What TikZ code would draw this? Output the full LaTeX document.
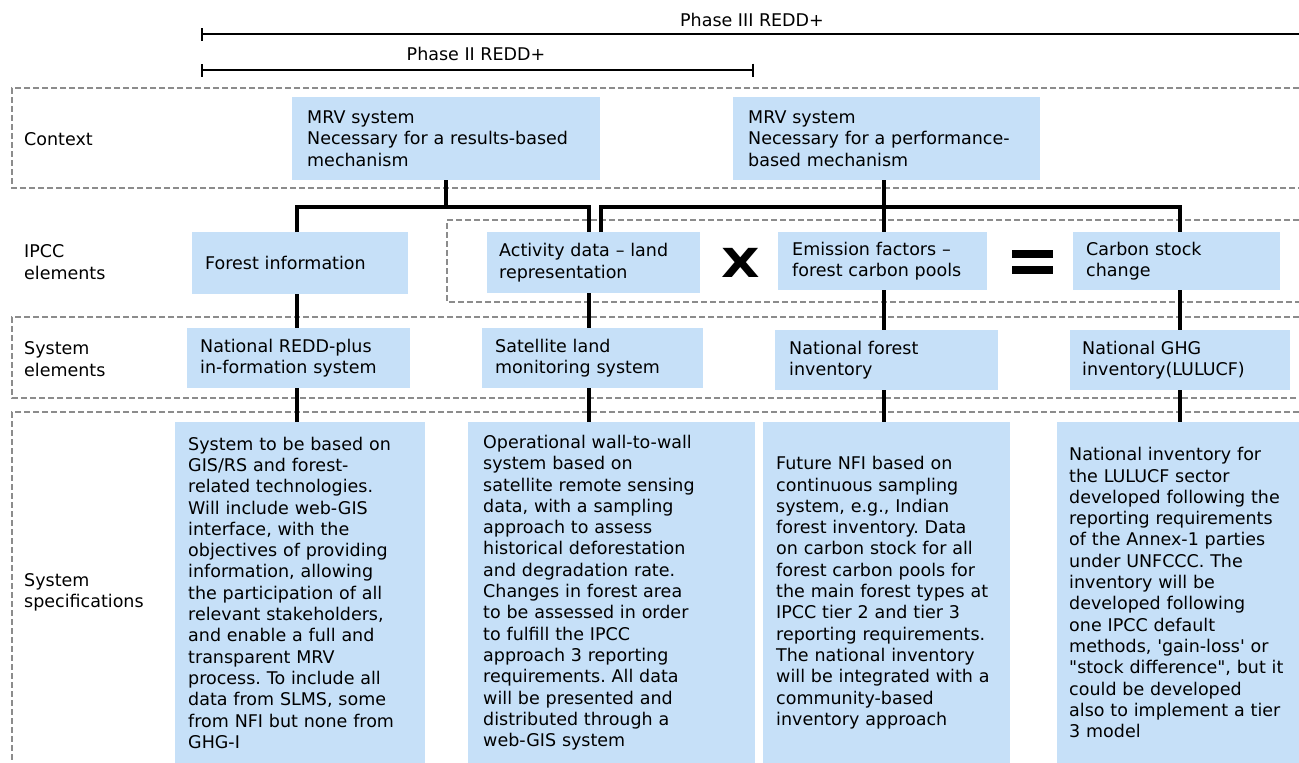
\documentclass[tikz,border=0pt]{standalone}
\usepackage{fontspec}
\usepackage{graphicx}
\setmainfont{DejaVu Sans}
\usetikzlibrary{arrows.meta}
\definecolor{cellblue}{RGB}{198,224,248}
\definecolor{framegray}{RGB}{140,140,140}
\newcommand\cellfont{\fontsize{17.5}{21.3}\selectfont}
\frenchspacing

\tikzset{
  cell/.style={fill=cellblue, anchor=north west, align=left, inner ysep=0pt, font=\cellfont},
  rowlabel/.style={anchor=west, align=left, inner sep=0pt, font=\cellfont},
  phaselabel/.style={inner sep=0pt, font=\cellfont},
  frame/.style={draw=framegray, line width=1.2pt, dash pattern=on 6pt off 3pt},
  link/.style={draw=black, line width=3.5pt},
  span/.style={draw=black, line width=2pt}
}

\begin{document}
\begin{tikzpicture}[x=1pt,y=-1pt]
\useasboundingbox (0,0) rectangle (1299,763);

% phases
\coordinate (p3a) at (201,34);
\coordinate (p3b) at (1299,34);
\draw[span, {Bar[width=13pt]}-] (p3a) -- (p3b);
\node[phaselabel] (p3) at (752,20) {Phase III REDD+};
\coordinate (p2a) at (201,70);
\coordinate (p2b) at (754,70);
\draw[span, {Bar[width=13pt]}-{Bar[width=13pt]}] (p2a) -- (p2b);
\node[phaselabel] (p2) at (476,54) {Phase II REDD+};

% row frames
\draw[frame] (1299,88) -- (12,88) -- (12,188) -- (1299,188);
\draw[frame] (1299,220) -- (447,220) -- (447,302) -- (1299,302);
\draw[frame] (1299,317) -- (12,317) -- (12,398) -- (1299,398);
\draw[frame] (1299,412) -- (12,412) -- (12,763);

% row labels
\node[rowlabel] (lctx) at (24,139) {Context};
\node[rowlabel] (lipcc) at (24,262) {IPCC\\elements};
\node[rowlabel] (lsys) at (24,359) {System\\elements};
\node[rowlabel] (lspec) at (24,592) {System\\specifications};

% context
\node[cell, inner xsep=15pt, text width=278pt, minimum height=83pt] (mrvA) at (292,97)
  {MRV system\\Necessary for a results-based\\mechanism};
\node[cell, inner xsep=15pt, text width=277pt, minimum height=83pt] (mrvB) at (733,97)
  {MRV system\\Necessary for a performance-\\based mechanism};

% IPCC elements
\node[cell, inner xsep=13pt, text width=190pt, minimum height=62pt] (forest) at (192,232)
  {Forest information};
\node[cell, inner xsep=12pt, text width=189pt, minimum height=61pt] (activity) at (487,232)
  {Activity data -- land\\representation};
\node[cell, inner xsep=14pt, text width=181pt, minimum height=58pt] (emission) at (778,232)
  {Emission factors --\\forest carbon pools};
\node[cell, inner xsep=13pt, text width=181pt, minimum height=58pt] (carbon) at (1073,232)
  {Carbon stock\\change};
\node[inner sep=0pt] (times) at (741,263)
  {\fontsize{40}{40}\selectfont\bfseries\scalebox{1.25}[1]{X}};
\node[inner sep=0pt] (equals) at (1032,262)
  {\vbox{\hrule width 41pt height 8pt\vskip 8pt\hrule width 41pt height 8pt}};

% system elements
\node[cell, inner xsep=13pt, text width=197pt, minimum height=60pt] (redd) at (187,328)
  {National REDD-plus\\in-formation system};
\node[cell, inner xsep=13pt, text width=195pt, minimum height=60pt] (satellite) at (482,328)
  {Satellite land\\monitoring system};
\node[cell, inner xsep=14pt, text width=195pt, minimum height=60pt] (nfi) at (775,330)
  {National forest\\inventory};
\node[cell, inner xsep=12pt, text width=196pt, minimum height=60pt] (ghg) at (1070,330)
  {National GHG\\inventory(LULUCF)};

% system specifications
\node[cell, inner xsep=13pt, text width=224pt, minimum height=341pt] (specA) at (175,422)
  {System to be based on\\GIS/RS and forest-\\related technologies.\\Will include web-GIS\\interface, with the\\objectives of providing\\information, allowing\\the participation of all\\relevant stakeholders,\\and enable a full and\\transparent MRV\\process. To include all\\data from SLMS, some\\from NFI but none from\\GHG-I};
\node[cell, inner xsep=15pt, text width=257pt, minimum height=341pt] (specB) at (468,422)
  {Operational wall-to-wall\\system based on\\satellite remote sensing\\data, with a sampling\\approach to assess\\historical deforestation\\and degradation rate.\\Changes in forest area\\to be assessed in order\\to fulfill the IPCC\\approach 3 reporting\\requirements. All data\\will be presented and\\distributed through a\\web-GIS system};
\node[cell, inner xsep=13pt, text width=221pt, minimum height=341pt] (specC) at (763,422)
  {Future NFI based on\\continuous sampling\\system, e.g., Indian\\forest inventory. Data\\on carbon stock for all\\forest carbon pools for\\the main forest types at\\IPCC tier 2 and tier 3\\reporting requirements.\\The national inventory\\will be integrated with a\\community-based\\inventory approach};
\node[cell, inner xsep=12pt, text width=218pt, minimum height=341pt] (specD) at (1057,422)
  {National inventory for\\the LULUCF sector\\developed following the\\reporting requirements\\of the Annex-1 parties\\under UNFCCC. The\\inventory will be\\developed following\\one IPCC default\\methods, \textquotesingle gain-loss\textquotesingle{} or\\\textquotedbl stock difference\textquotedbl, but it\\could be developed\\also to implement a tier\\3 model};

% connectors
\coordinate (bus) at (0,207);
\coordinate (colA) at (297,0);
\coordinate (colB) at (589,0);
\coordinate (colB2) at (601,0);
\coordinate (colC) at (884,0);
\coordinate (colD) at (1180,0);
\draw[link] (mrvA.south) -- (mrvA.south |- bus);
\draw[link] (forest.north -| colA) |- (bus -| colB) -- (activity.north -| colB);
\draw[link] (activity.north -| colB2) |- (bus -| colD) -- (carbon.north -| colD);
\draw[link] (mrvB.south -| colC) -- (emission.north -| colC);
\draw[link] (forest.south -| colA) -- (redd.north -| colA);
\draw[link] (redd.south -| colA) -- (specA.north -| colA);
\draw[link] (activity.south -| colB) -- (satellite.north -| colB);
\draw[link] (satellite.south -| colB) -- (specB.north -| colB);
\draw[link] (emission.south -| colC) -- (nfi.north -| colC);
\draw[link] (nfi.south -| colC) -- (specC.north -| colC);
\draw[link] (carbon.south -| colD) -- (ghg.north -| colD);
\draw[link] (ghg.south -| colD) -- (specD.north -| colD);
\end{tikzpicture}
\end{document}
